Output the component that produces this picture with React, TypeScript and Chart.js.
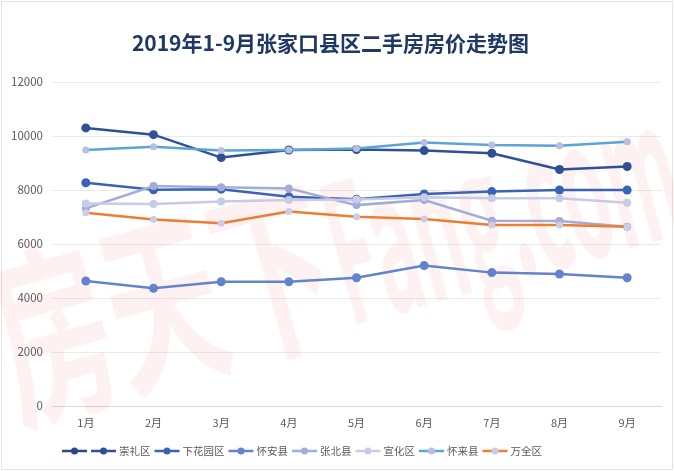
import React, { useEffect, useRef } from "react";
import { Chart, registerables } from "chart.js";
Chart.register(...registerables);

const FONT = '"Noto Sans CJK SC", "Noto Sans", sans-serif';

const months = ["1月", "2月", "3月", "4月", "5月", "6月", "7月", "8月", "9月"];
const yTicks = [0, 2000, 4000, 6000, 8000, 10000, 12000];

const unnamed: (number | null)[] = [null, null, null, null, null, null, null, null, null];
const chongli = [10300, 10050, 9200, 9480, 9500, 9460, 9360, 8760, 8870];
const xiahuayuan = [8270, 8010, 8030, 7750, 7660, 7850, 7940, 8000, 8000];
const huaian = [4630, 4360, 4600, 4600, 4750, 5200, 4940, 4890, 4750];
const zhangbei = [7320, 8150, 8100, 8060, 7440, 7630, 6860, 6850, 6640];
const xuanhua = [7500, 7480, 7570, 7630, 7650, 7730, 7690, 7690, 7530];
const huailai = [9480, 9600, 9460, 9480, 9540, 9760, 9670, 9640, 9790];
const wanquan = [7160, 6910, 6770, 7200, 7010, 6930, 6700, 6700, 6640];

const seriesLabels = ["", "崇礼区", "下花园区", "怀安县", "张北县", "宣化区", "怀来县", "万全区"];
const seriesData = [unnamed, chongli, xiahuayuan, huaian, zhangbei, xuanhua, huailai, wanquan];
const lineColors = ["#2b4987", "#2f5099", "#3a63b8", "#6383cc", "#a3acd8", "#c6cbe6", "#5ba4d8", "#ed7d31"];
const markerColors = ["#2b4987", "#2f5099", "#3a63b8", "#6383cc", "#a3acd8", "#c6cbe6", "#b7bee0", "#c9cde7"];
const markerRadius = [4.5, 4.5, 4.5, 4.5, 4, 4, 3.5, 3.5];

const bgPlugin = {
  id: "bgAndWatermark",
  beforeDraw(chart: any) {
    const ctx = chart.ctx;
    ctx.save();
    ctx.fillStyle = "#ffffff";
    ctx.fillRect(0, 0, chart.width, chart.height);
    ctx.strokeStyle = "#e4e4e4";
    ctx.lineWidth = 1;
    ctx.strokeRect(1.5, 1.5, chart.width - 3, chart.height - 3);
    ctx.restore();
  },
  beforeDatasetsDraw(chart: any) {
    const ctx = chart.ctx;
    ctx.save();
    ctx.translate(18, 418);
    ctx.rotate(-0.27);
    ctx.fillStyle = "rgba(228, 95, 95, 0.085)";
    ctx.textBaseline = "alphabetic";
    ctx.save();
    ctx.scale(0.95, 1.6);
    ctx.font = `bold 120px ${FONT}`;
    ctx.fillText("房天下", 0, 0);
    ctx.restore();
    ctx.save();
    ctx.translate(345, 0);
    ctx.scale(0.62, 1.6);
    ctx.font = `bold 120px ${FONT}`;
    ctx.fillText("Fang.com", 0, 0);
    ctx.restore();
    ctx.restore();
  },
};

const legendPlugin = {
  id: "lineLegend",
  afterDraw(chart: any) {
    const ctx = chart.ctx;
    ctx.save();
    ctx.font = `10.5px ${FONT}`;
    const lineW = 25;
    const gapText = 3;
    const gapItem = 4;
    const items = chart.data.datasets.map((ds: any) => ({
      ds,
      tw: ds.label ? ctx.measureText(ds.label).width : 0,
    }));
    const total =
      items.reduce((s: number, it: any) => s + lineW + (it.tw ? gapText + it.tw : 0) + gapItem, 0) - gapItem;
    let x = 302 - total / 2;
    const y = 451;
    items.forEach((it: any) => {
      ctx.strokeStyle = it.ds.borderColor;
      ctx.lineWidth = 2.5;
      ctx.beginPath();
      ctx.moveTo(x, y);
      ctx.lineTo(x + lineW, y);
      ctx.stroke();
      ctx.fillStyle = it.ds.pointBackgroundColor;
      ctx.beginPath();
      ctx.arc(x + lineW / 2, y, 3.5, 0, Math.PI * 2);
      ctx.fill();
      x += lineW;
      if (it.tw) {
        ctx.fillStyle = "#595959";
        ctx.textBaseline = "middle";
        ctx.textAlign = "left";
        ctx.fillText(it.ds.label, x + gapText, y);
        x += gapText + it.tw;
      }
      x += gapItem;
    });
    ctx.restore();
  },
};

export default function App() {
  const ref = useRef<HTMLCanvasElement | null>(null);
  useEffect(() => {
    if (!ref.current) return;
    const n = seriesData.length;
    const chart = new Chart(ref.current, {
      type: "line",
      data: {
        labels: months,
        datasets: seriesData.map((d, i) => ({
          label: seriesLabels[i],
          data: d,
          borderColor: lineColors[i],
          backgroundColor: markerColors[i],
          pointBackgroundColor: markerColors[i],
          pointBorderColor: markerColors[i],
          pointRadius: markerRadius[i],
          pointBorderWidth: 0,
          borderWidth: 2.5,
          tension: 0,
          fill: false,
          order: n - i,
        })),
      },
      options: {
        animation: false,
        responsive: false,
        events: [],
        layout: { padding: { left: 0, right: 13, top: 0, bottom: 40 } },
        plugins: {
          legend: { display: false },
          tooltip: { enabled: false },
          title: {
            display: true,
            text: "2019年1-9月张家口县区二手房房价走势图",
            color: "#1f3864",
            font: { family: FONT, size: 21, weight: "bold" },
            padding: { top: 30, bottom: 26.8 },
          },
        },
        scales: {
          x: {
            offset: true,
            grid: { display: false, drawTicks: false },
            border: { display: true, color: "#d9d9d9", width: 1 },
            ticks: { color: "#595959", font: { family: FONT, size: 11 }, padding: 10 },
            afterFit: (s: any) => {
              s.height = 25;
            },
          },
          y: {
            min: 0,
            max: 12000,
            afterBuildTicks: (s: any) => {
              s.ticks = yTicks.map((v) => ({ value: v }));
            },
            grid: { color: "#ebebeb", drawTicks: false, lineWidth: 1 },
            border: { display: false },
            ticks: {
              color: "#595959",
              font: { family: FONT, size: 11.5 },
              padding: 9,
              callback: (v: any) => String(v),
            },
            afterFit: (s: any) => {
              s.width = 52;
            },
          },
        },
      },
      plugins: [bgPlugin, legendPlugin],
    });
    return () => chart.destroy();
  }, []);
  return (
    <div style={{ position: "fixed", left: 0, top: 0, width: 674, height: 471, background: "#fff" }}>
      <canvas ref={ref} width={674} height={471} style={{ width: 674, height: 471, display: "block" }} />
    </div>
  );
}
